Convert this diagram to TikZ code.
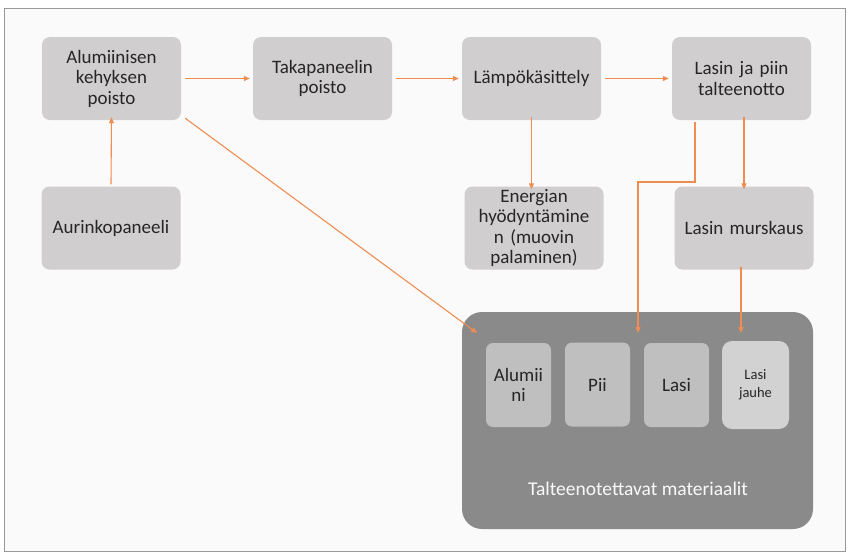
\documentclass[tikz,border=0pt]{standalone}
\usepackage{fontspec}
\setmainfont{Carlito}
\usetikzlibrary{arrows.meta}
\definecolor{boxgray}{HTML}{D0CECE}
\definecolor{biggray}{HTML}{8A8A8A}
\definecolor{innergray}{HTML}{BFBFBF}
\definecolor{lightinner}{HTML}{D2D2D2}
\definecolor{arroworange}{HTML}{EE8C52}
\definecolor{txt}{HTML}{262626}
\definecolor{bg}{HTML}{FAFAFA}
\tikzset{
  procbox/.style={fill=boxgray, rounded corners=8pt, minimum width=139pt, minimum height=83pt,
    align=center, text=txt, font=\fontsize{19}{20.5}\selectfont, inner sep=0pt, text width=134pt},
  matbox/.style={fill=innergray, rounded corners=7pt, minimum width=65pt, minimum height=84pt,
    align=center, text=txt, font=\fontsize{19}{20.5}\selectfont, inner sep=0pt, text width=62pt},
  flow/.style={draw=arroworange, line width=1.1pt, -{Triangle[length=6pt,width=5pt]}}
}
\begin{document}
\begin{tikzpicture}[x=1pt,y=-1pt]
\useasboundingbox (0,0) rectangle (849,555);
\fill[white] (0,0) rectangle (849,555);
\draw[fill=bg, draw=gray!80, line width=0.8pt] (4,8) rectangle (845,551);
% process boxes
\node[procbox] (alu) at (111.5,78.5) {Alumiinisen\\kehyksen\\poisto};
\node[procbox] (taka) at (322.5,78.5) {Takapaneelin\\poisto};
\node[procbox] (lampo) at (531.5,78.5) {Lämpökäsittely};
\node[procbox] (lasin) at (741.5,78.5) {Lasin ja piin\\talteenotto};
\node[procbox] (aur) at (111,228) {Aurinkopaneeli};
\node[procbox] (ener) at (534,228) {Energian\\hyödyntämine\\n (muovin\\palaminen)};
\node[procbox] (murs) at (744,228) {Lasin murskaus};
% big box
\node[fill=biggray, rounded corners=20pt, minimum width=351pt, minimum height=217pt, inner sep=0pt] (big) at (637.5,420.5) {};
\node[text=white!95!gray, font=\fontsize{19.5}{21}\selectfont] (bigl) at (638,489) {Talteenotettavat materiaalit};
\node[matbox] (m1) at (518.5,385) {Alumii\\ni};
\node[matbox] (m2) at (597.5,384.5) {Pii};
\node[matbox] (m3) at (676.5,385) {Lasi};
\node[matbox, fill=lightinner, rounded corners=10pt, minimum width=67pt, minimum height=88pt, font=\fontsize{14.5}{18}\selectfont] (m4) at (755.5,385) {Lasi\\jauhe};
% free ends / bends
\coordinate (lasOut) at (695,122);
\coordinate (bendA) at (695,182);
\coordinate (bendB) at (638,182);
\coordinate (piiIn) at (638,333);
\coordinate (jauIn) at (741,333);
\coordinate (bigIn) at (477,333);
% connectors
\draw[flow] ([xshift=4pt]alu.east) -- ([xshift=-3pt]taka.west);
\draw[flow] ([xshift=4pt]taka.east) -- ([xshift=-3pt]lampo.west);
\draw[flow] ([xshift=4pt]lampo.east) -- ([xshift=-3pt]lasin.west);
\draw[flow] ([yshift=2pt]aur.north) -- ([yshift=3pt]alu.south);
\draw[flow] ([yshift=3pt]lampo.south) -- ([yshift=-3pt]lampo.south |- ener.north);
\draw[flow] ([yshift=3pt]lasin.south -| murs.north) -- ([yshift=-3pt]murs.north);
\draw[flow] (lasOut) -- (bendA) -- (bendB) -- (piiIn);
\draw[flow] ([yshift=3pt]murs.south -| jauIn) -- (jauIn);
\draw[flow] ([xshift=4pt,yshift=2pt]alu.south east) -- (bigIn);
\end{tikzpicture}
\end{document}
